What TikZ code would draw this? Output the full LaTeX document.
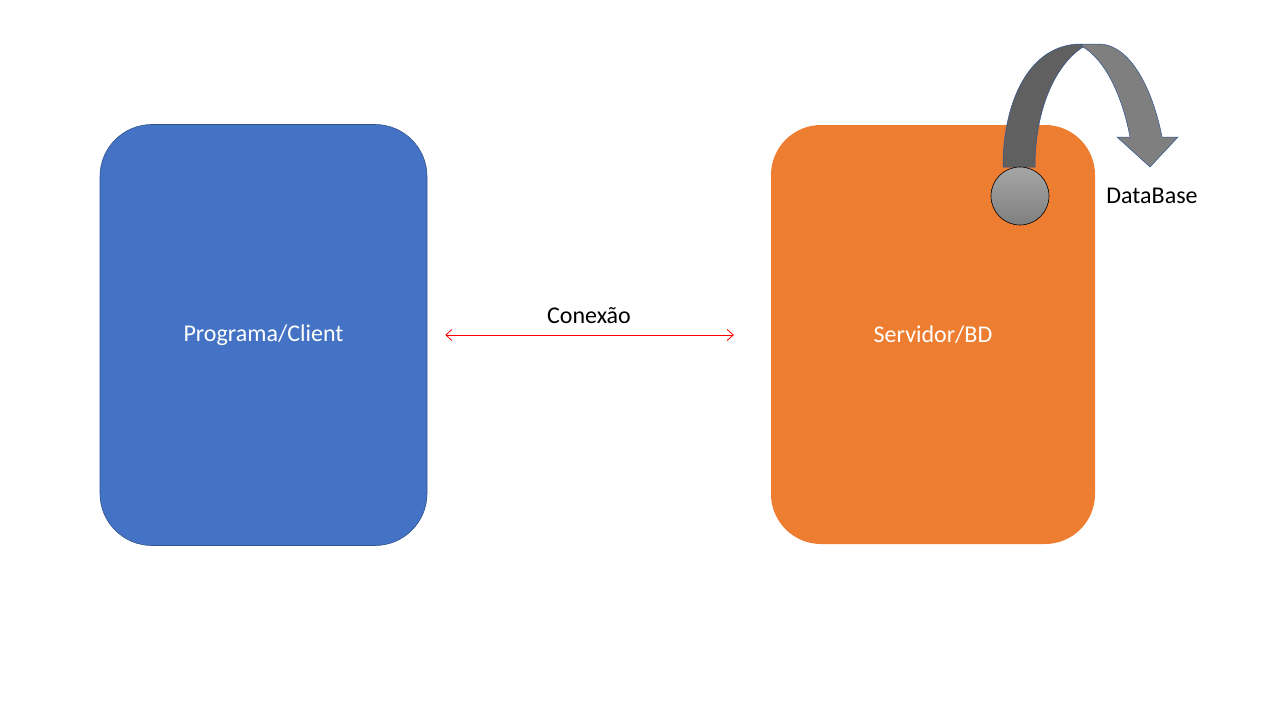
\documentclass[tikz,border=0pt]{standalone}
\usepackage{fontspec}
\setmainfont{Carlito}
\usetikzlibrary{arrows.meta,positioning}

\definecolor{clientblue}{HTML}{4472C4}
\definecolor{clientedge}{HTML}{2F528F}
\definecolor{serverorange}{HTML}{ED7D31}
\definecolor{arrowdark}{HTML}{606060}
\definecolor{arrowlight}{HTML}{7F7F7F}
\definecolor{arrowedge}{HTML}{2F528F}

\tikzset{
  box/.style={rounded corners=52pt,minimum width=327pt,minimum height=421pt,
    text=white,font=\fontsize{24}{28}\selectfont,inner sep=0pt},
  client/.style={box,fill=clientblue,draw=clientedge,line width=0.6pt},
  server/.style={box,fill=serverorange,minimum width=324pt,minimum height=419pt,rounded corners=50pt},
  conn/.style={draw=red,line width=0.8pt,{Straight Barb[length=6pt,width=11pt]}-{Straight Barb[length=6pt,width=11pt]}},
  label/.style={font=\fontsize{24}{28}\selectfont,text=black,inner sep=0pt}
}

\begin{document}
\begin{tikzpicture}[x=1pt,y=-1pt]
\useasboundingbox (0,0) rectangle (1280,720);
\node[client] (client) at (263.5,335) {Programa/Client};
\node[server] (server) at (933,334.5) {Servidor/BD};
\draw[conn,shorten <=18pt,shorten >=37pt] (client.east) -- (server.west |- client.east);
\node[label] (conexao) at (589,316) {Conexão};
% curved arrow
\filldraw[fill=arrowdark,draw=arrowedge,line width=0.5pt] (1003,167) .. controls (1003,100) and (1030,44) .. (1081,44)
  -- (1083,47) .. controls (1055,65) and (1035,110) .. (1035,167) -- cycle;
\filldraw[fill=arrowlight,draw=arrowedge,line width=0.5pt] (1081,44) -- (1100,44) .. controls (1135,46) and (1155,100) .. (1162,137)
  -- (1178,137) -- (1150,167) -- (1117,137) -- (1130,137) .. controls (1122,95) and (1105,60) .. (1083,47) -- cycle;
\node[circle,draw=black,line width=0.6pt,minimum size=58pt,inner sep=0pt,top color=black!35,bottom color=black!50] (db) at (1020,196) {};
\node[label] (dbname) at (1152,196) {DataBase};
\end{tikzpicture}
\end{document}
